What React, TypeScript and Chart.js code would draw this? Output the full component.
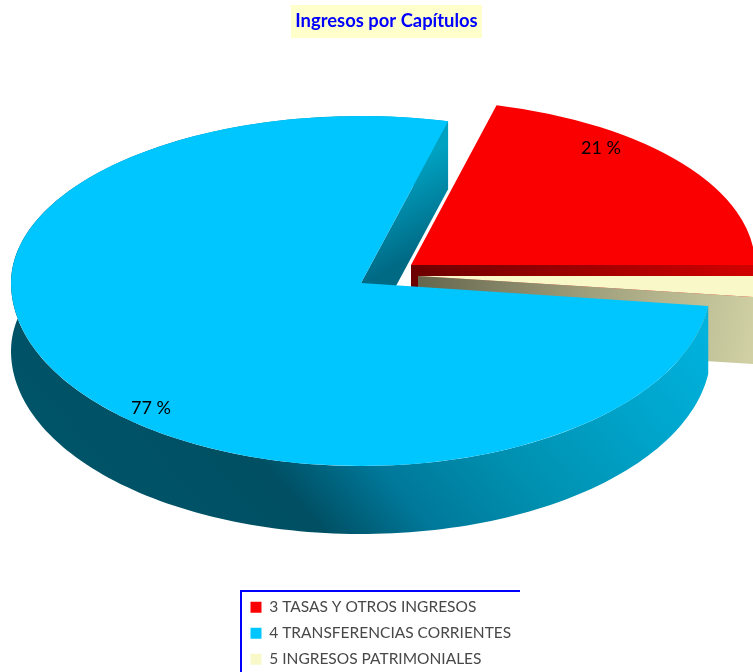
import React, { useEffect, useRef } from "react";
import { Chart, registerables } from "chart.js";

Chart.register(...registerables);

const categories = ["3 TASAS Y OTROS INGRESOS", "5 INGRESOS PATRIMONIALES", "4 TRANSFERENCIAS CORRIENTES"];
const values = [21, 2, 77];
const sliceColors = ["#fb0000", "#f8f8c8", "#00c6ff"];
const chartTitle = "Ingresos por Capítulos";

const FONT = "Lato, 'Open Sans', sans-serif";
const W = 753;
const H = 672;

// Projection of each slice on the tilted view (top half and bottom half radii differ: perspective)
const projection = [
  { cx: 411, cy: 265, rx: 344, ryT: 165, ryB: 165, depth: 67 },
  { cx: 418, cy: 276, rx: 344, ryT: 165, ryB: 170, depth: 67 },
  { cx: 361, cy: 283, rx: 350, ryT: 167, ryB: 183, depth: 68 },
];
const labelSpots = [
  { x: 601, y: 148 },
  null,
  { x: 151, y: 408 },
];

function pt(p: any, a: number) {
  const s = Math.sin(a);
  return { x: p.cx + p.rx * Math.cos(a), y: p.cy + (s < 0 ? p.ryT : p.ryB) * s };
}

function poly(ctx: CanvasRenderingContext2D, pts: { x: number; y: number }[], fill: any) {
  ctx.beginPath();
  pts.forEach((q, i) => (i ? ctx.lineTo(q.x, q.y) : ctx.moveTo(q.x, q.y)));
  ctx.closePath();
  ctx.fillStyle = fill;
  ctx.fill();
}

function grad(ctx: CanvasRenderingContext2D, x0: number, y0: number, x1: number, y1: number, stops: [number, string][]) {
  const g = ctx.createLinearGradient(x0, y0, x1, y1);
  stops.forEach(([o, c]) => g.addColorStop(o, c));
  return g;
}

function endFace(ctx: CanvasRenderingContext2D, p: any, arc: any, fill: any) {
  const e = pt(p, arc.endAngle);
  poly(ctx, [
    { x: p.cx, y: p.cy },
    e,
    { x: e.x, y: e.y + p.depth },
    { x: p.cx, y: p.cy + p.depth },
  ], fill);
}

function outerWall(ctx: CanvasRenderingContext2D, p: any, arc: any, fill: any) {
  const top: { x: number; y: number }[] = [];
  const n = 200;
  for (let i = 0; i <= n; i++) {
    top.push(pt(p, arc.startAngle + ((arc.endAngle - arc.startAngle) * i) / n));
  }
  const bottom = top.map((q) => ({ x: q.x, y: q.y + p.depth })).reverse();
  poly(ctx, top.concat(bottom), fill);
}

function topFace(ctx: CanvasRenderingContext2D, p: any, arc: any) {
  const R = arc.outerRadius;
  const halves = [
    { y: 0, h: p.cy, ry: p.ryT },
    { y: p.cy, h: H - p.cy, ry: p.ryB },
  ];
  halves.forEach((half) => {
    ctx.save();
    ctx.beginPath();
    ctx.rect(0, half.y, W, half.h);
    ctx.clip();
    ctx.translate(p.cx, p.cy);
    ctx.scale(p.rx / R, half.ry / R);
    ctx.translate(-arc.x, -arc.y);
    arc.draw(ctx);
    ctx.restore();
  });
}

const pie3d = {
  id: "pie3d",
  beforeDraw(chart: any) {
    const ctx = chart.ctx;
    ctx.save();
    ctx.fillStyle = "#ffffcc";
    ctx.fillRect(291, 5, 191, 33);
    ctx.restore();
  },
  afterLayout(chart: any) {
    const lg = chart.legend;
    const dx = 240 - lg.left;
    const dy = 589 - lg.top;
    lg.left += dx;
    lg.right = lg.left + 280;
    lg.top += dy;
    lg.bottom = lg.top + 90;
    lg.legendHitBoxes.forEach((b: any) => {
      b.left += dx;
      b.top += dy;
    });
  },
  beforeDatasetsDraw(chart: any) {
    const ctx: CanvasRenderingContext2D = chart.ctx;
    const arcs = chart.getDatasetMeta(0).data;
    const [pR, pC, pB] = projection;
    ctx.save();

    endFace(ctx, pR, arcs[0], grad(ctx, 411, 0, 753, 0, [[0, "#6c0000"], [1, "#d20000"]]));
    endFace(ctx, pC, arcs[1], grad(ctx, 418, 280, 753, 340, [[0, "#66664e"], [0.5, "#9f9f7c"], [1, "#d0d0a4"]]));
    topFace(ctx, pC, arcs[1]);
    topFace(ctx, pR, arcs[0]);

    outerWall(ctx, pB, arcs[2], grad(ctx, -187, 165, 232, -205, [
      [0, "#005468"],
      [0.25, "#004f63"],
      [0.4, "#00789a"],
      [0.58, "#0090b0"],
      [0.82, "#00a5cc"],
      [1, "#00b2de"],
    ]));
    endFace(ctx, pB, arcs[2], grad(ctx, 400, 170, 440, 240, [[0, "#00a2c2"], [1, "#006a85"]]));
    topFace(ctx, pB, arcs[2]);

    ctx.fillStyle = "#000000";
    ctx.font = `18px ${FONT}`;
    ctx.textAlign = "center";
    ctx.textBaseline = "middle";
    values.forEach((v, i) => {
      const spot = labelSpots[i];
      if (spot) ctx.fillText(`${v} %`, spot.x, spot.y);
    });

    // legend frame
    ctx.fillStyle = "#0000ff";
    ctx.fillRect(240, 590, 280, 2);
    ctx.fillRect(240, 590, 2, H - 590);
    ctx.restore();
    return false;
  },
};

export default function App() {
  const ref = useRef<HTMLCanvasElement>(null);
  useEffect(() => {
    const chart = new Chart(ref.current as HTMLCanvasElement, {
      type: "pie",
      data: {
        labels: categories,
        datasets: [{ data: values, backgroundColor: sliceColors, borderWidth: 0 }],
      },
      options: {
        responsive: false,
        animation: false,
        rotation: 14.4,
        layout: { padding: { left: 20 } },
        plugins: {
          title: {
            display: true,
            text: chartTitle,
            color: "#0000ff",
            font: { family: FONT, size: 18.4, weight: "bold" },
            padding: { top: 10, bottom: 10 },
          },
          legend: {
            display: true,
            position: "chartArea",
            align: "start",
            labels: {
              boxWidth: 11,
              boxHeight: 11,
              padding: 10.5,
              color: "#484848",
              font: { family: FONT, size: 15.5 },
              sort: (a: any, b: any) => a.text.localeCompare(b.text),
            },
          },
          tooltip: { enabled: false },
        },
      },
      plugins: [pie3d],
    } as any);
    return () => chart.destroy();
  }, []);
  return (
    <div style={{ position: "fixed", left: 0, top: 0 }}>
      <canvas ref={ref} width={W} height={H} style={{ display: "block" }} />
    </div>
  );
}
